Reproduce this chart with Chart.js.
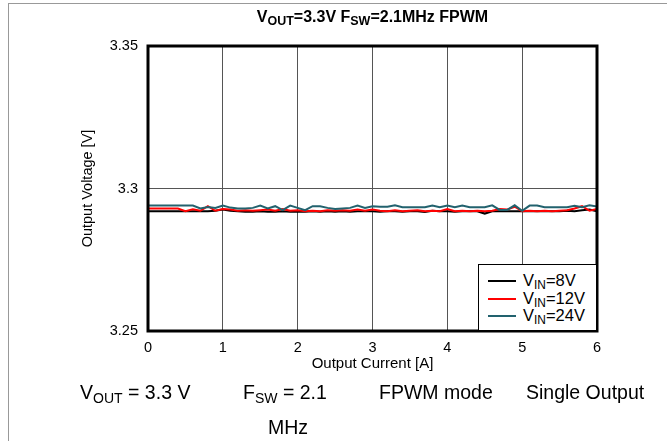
<!DOCTYPE html>
<html>
<head>
<meta charset="utf-8">
<script src="https://cdn.jsdelivr.net/npm/chart.js@4"></script>
<style>
    body { margin: 0; background: #fff; font-family: "Liberation Sans", Arial, sans-serif; }
    #wrap { position: relative; width: 667px; height: 441px; overflow: hidden; }
    #frame { position: absolute; left: 8px; top: 3px; width: 700px; height: 500px; border-left: 1px solid #999; border-top: 1px solid #999; }
    #chart { position: absolute; left: 0; top: 0; }
    #title { position: absolute; left: 148px; width: 449px; top: 8px; text-align: center; font-weight: bold; font-size: 16px; }
    #title sub { font-size: 78%; }
    #legend { position: absolute; left: 478px; top: 264px; width: 117px; height: 65px; border: 1.5px solid #000; background: #fff; font-size: 16.5px; }
    #legend .row { position: absolute; left: 0; height: 17px; line-height: 17px; }
    #legend .sw { position: absolute; left: 9px; top: 8px; width: 28px; height: 2px; }
    #legend .tx { position: absolute; left: 44px; top: 0; white-space: nowrap; }
    sub { font-size: 72%; vertical-align: -0.25em; }
    .cap { position: absolute; font-size: 19.5px; white-space: nowrap; }
</style>
</head>
<body>
<div id="wrap">
    <div id="frame"></div>
    <canvas id="chart" width="667" height="441"></canvas>
    <div id="title">V<sub>OUT</sub>=3.3V F<sub>SW</sub>=2.1MHz FPWM</div>
    <div id="legend"></div>
    <div class="cap" style="left:80px; top:381px;">V<sub>OUT</sub> = 3.3 V</div>
    <div class="cap" style="left:243px; top:381px;">F<sub>SW</sub> = 2.1</div>
    <div class="cap" style="left:268px; top:416px;">MHz</div>
    <div class="cap" style="left:379px; top:381px;">FPWM mode</div>
    <div class="cap" style="left:526px; top:381px;">Single Output</div>
</div>
<script>
// output current [A]
const current = [0, 0.1, 0.2, 0.3, 0.4, 0.5, 0.6, 0.7, 0.8, 0.9,
    1, 1.1, 1.2, 1.3, 1.4, 1.5, 1.6, 1.7, 1.8, 1.9,
    2, 2.1, 2.2, 2.3, 2.4, 2.5, 2.6, 2.7, 2.8, 2.9,
    3, 3.1, 3.2, 3.3, 3.4, 3.5, 3.6, 3.7, 3.8, 3.9,
    4, 4.1, 4.2, 4.3, 4.4, 4.5, 4.6, 4.7, 4.8, 4.9,
    5, 5.1, 5.2, 5.3, 5.4, 5.5, 5.6, 5.7, 5.8, 5.9, 6];

// output voltage [V]
const vin8 = [3.2920, 3.2920, 3.2920, 3.2920, 3.2920, 3.2920, 3.2920, 3.2920, 3.2920, 3.2922,
    3.2926, 3.2922, 3.2920, 3.2918, 3.2918, 3.2920, 3.2918, 3.2918, 3.2920, 3.2918,
    3.2918, 3.2918, 3.2920, 3.2918, 3.2920, 3.2918, 3.2920, 3.2918, 3.2920, 3.2920,
    3.2920, 3.2918, 3.2920, 3.2920, 3.2918, 3.2920, 3.2920, 3.2918, 3.2922, 3.2920,
    3.2920, 3.2918, 3.2920, 3.2920, 3.2920, 3.2912, 3.2920, 3.2920, 3.2920, 3.2920,
    3.2920, 3.2920, 3.2920, 3.2920, 3.2920, 3.2920, 3.2922, 3.2920, 3.2924, 3.2926, 3.2920];
const vin12 = [3.2930, 3.2930, 3.2930, 3.2930, 3.2930, 3.2920, 3.2927, 3.2922, 3.2938, 3.2922,
    3.2928, 3.2926, 3.2922, 3.2924, 3.2922, 3.2924, 3.2926, 3.2922, 3.2928, 3.2922,
    3.2924, 3.2920, 3.2922, 3.2920, 3.2924, 3.2922, 3.2924, 3.2922, 3.2926, 3.2922,
    3.2926, 3.2922, 3.2920, 3.2924, 3.2920, 3.2922, 3.2924, 3.2920, 3.2922, 3.2920,
    3.2928, 3.2920, 3.2922, 3.2920, 3.2922, 3.2920, 3.2922, 3.2928, 3.2926, 3.2936,
    3.2920, 3.2922, 3.2920, 3.2922, 3.2920, 3.2922, 3.2924, 3.2930, 3.2938, 3.2922, 3.2928];
const vin24 = [3.2940, 3.2940, 3.2940, 3.2940, 3.2940, 3.2940, 3.2940, 3.2930, 3.2935, 3.2932,
    3.2940, 3.2933, 3.2930, 3.2930, 3.2932, 3.2940, 3.2930, 3.2938, 3.2924, 3.2940,
    3.2932, 3.2924, 3.2938, 3.2938, 3.2932, 3.2928, 3.2930, 3.2932, 3.2940, 3.2932,
    3.2938, 3.2936, 3.2936, 3.2941, 3.2934, 3.2934, 3.2934, 3.2934, 3.2940, 3.2934,
    3.2940, 3.2934, 3.2940, 3.2934, 3.2934, 3.2934, 3.2941, 3.2925, 3.2925, 3.2941,
    3.2922, 3.2940, 3.2940, 3.2934, 3.2934, 3.2934, 3.2934, 3.2939, 3.2934, 3.2941, 3.2937];

const seriesNames = ['8V', '12V', '24V'];
const seriesColors = ['#000000', '#ff0000', '#22626e'];
const seriesValues = [vin8, vin12, vin24];

const FONT = '"Liberation Sans", Arial, sans-serif';

const frameBox = {
    id: 'frameBox',
    afterDraw(chart) {
        const a = chart.chartArea;
        const ctx = chart.ctx;
        ctx.save();
        ctx.strokeStyle = '#000';
        ctx.lineWidth = 3;
        ctx.strokeRect(a.left, a.top, a.right - a.left, a.bottom - a.top);
        ctx.restore();
    }
};

const datasets = seriesValues.map((vals, i) => ({
    label: 'VIN=' + seriesNames[i],
    data: vals.map((v, j) => ({ x: current[j], y: v })),
    borderColor: seriesColors[i],
    backgroundColor: seriesColors[i],
    borderWidth: 2,
    pointRadius: 0,
    tension: 0,
    order: seriesValues.length - i
}));

const chart = new Chart(document.getElementById('chart').getContext('2d'), {
    type: 'line',
    data: { datasets: datasets },
    options: {
        responsive: false,
        animation: false,
        layout: { padding: { left: 79, right: 70, top: 46, bottom: 68 } },
        plugins: {
            legend: { display: false },
            tooltip: { enabled: false }
        },
        scales: {
            x: {
                type: 'linear',
                min: 0,
                max: 6,
                ticks: { stepSize: 1, color: '#000', padding: 8, font: { family: FONT, size: 14.5 } },
                grid: { color: '#555', drawTicks: false },
                border: { display: false },
                title: { display: true, text: 'Output Current [A]', color: '#000', padding: 0, font: { family: FONT, size: 15 } },
                afterFit: s => { s.height = 42; }
            },
            y: {
                min: 3.25,
                max: 3.35,
                ticks: {
                    stepSize: 0.05,
                    color: '#000',
                    padding: 10,
                    font: { family: FONT, size: 14.5 },
                    callback: v => String(+v.toFixed(2))
                },
                grid: { color: '#555', drawTicks: false },
                border: { display: false },
                title: { display: true, text: 'Output Voltage [V]', color: '#000', padding: 0, font: { family: FONT, size: 14.5 } },
                afterFit: s => { s.width = 69; }
            }
        }
    },
    plugins: [frameBox]
});

// legend with subscripts
const legendEl = document.getElementById('legend');
seriesNames.forEach((name, i) => {
    const row = document.createElement('div');
    row.className = 'row';
    row.style.top = (7 + i * 17.5) + 'px';
    row.innerHTML = '<span class="sw" style="background:' + seriesColors[i] + '"></span>' +
        '<span class="tx">V<sub>IN</sub>=' + name + '</span>';
    legendEl.appendChild(row);
});
</script>
</body>
</html>
